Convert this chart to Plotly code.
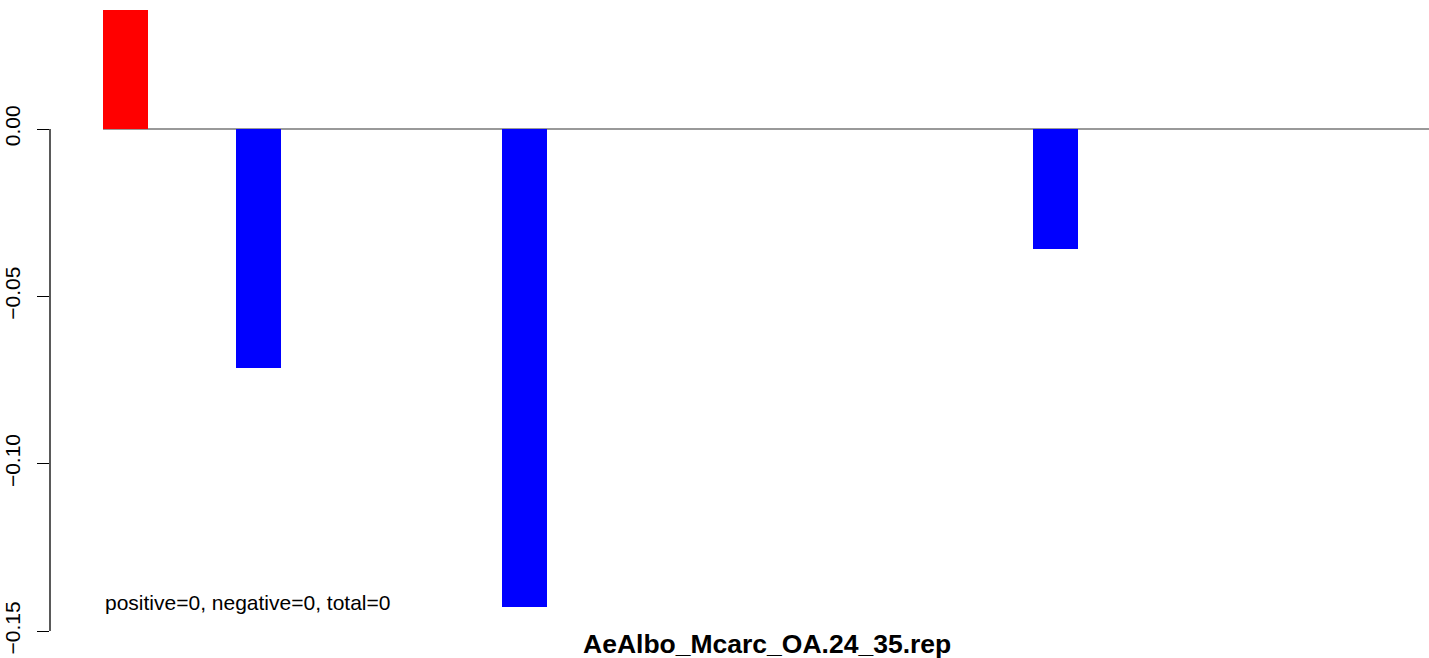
import plotly.graph_objects as go

# data
positions = [1, 2, 3, 4, 5, 6, 7, 8, 9, 10]
values = [0.0356, -0.0714, 0.0, -0.1428, 0.0, 0.0, 0.0, -0.0358, 0.0, 0.0]
bar_colors = ["#FF0000" if v > 0 else "#0000FF" for v in values]
y_tickvals = [0.0, -0.05, -0.10, -0.15]
y_ticktext = ["0.00", "\u22120.05", "\u22120.10", "\u22120.15"]
title_text = "AeAlbo_Mcarc_OA.24_35.rep"
note_text = "positive=0, negative=0, total=0"

bar_width = 0.3386
FONT = "Liberation Sans, Arial, Helvetica, sans-serif"

fig = go.Figure()
fig.add_trace(go.Bar(
    x=positions, y=values, width=bar_width,
    marker=dict(color=bar_colors, line=dict(width=0)),
    showlegend=False, hoverinfo="x+y",
))

x_left = positions[0] - bar_width / 2

fig.update_layout(
    width=1429, height=658,
    margin=dict(l=50, r=0, t=0, b=27),
    paper_bgcolor="white", plot_bgcolor="white",
    font=dict(family=FONT, size=21, color="black"),
    bargap=0,
    xaxis=dict(range=[0.432, 10.808], visible=False, showgrid=False, zeroline=False),
    yaxis=dict(
        range=[-0.15, 0.03855], tickvals=y_tickvals, ticktext=y_ticktext,
        ticks="outside", ticklen=12, tickwidth=1.3, tickcolor="black",
        tickangle=-90, showgrid=False, zeroline=False, showline=False,
        tickfont=dict(family=FONT, size=21, color="black"),
        ticklabelstandoff=9,
    ),
    shapes=[
        dict(type="line", xref="paper", yref="y", x0=0, x1=0,
             y0=y_tickvals[-1], y1=y_tickvals[0],
             line=dict(color="black", width=1.3), layer="above"),
        dict(type="line", xref="x", yref="y", x0=x_left, x1=10.808,
             y0=0, y1=0, line=dict(color="#777777", width=1.3), layer="below"),
    ],
    annotations=[
        dict(text=note_text, xref="x", yref="y", x=x_left, y=-0.1415,
             xanchor="left", yanchor="middle", showarrow=False,
             font=dict(family=FONT, size=21, color="black")),
        dict(text="<b>" + title_text + "</b>", xref="paper", yref="paper",
             x=0.5203, y=-0.0205, xanchor="center", yanchor="middle",
             showarrow=False, borderpad=0,
             font=dict(family=FONT, size=26.5, color="black")),
    ],
)

fig.write_html("out.html", config={"displayModeBar": False},
               post_script="document.body.style.margin='0px';document.body.style.padding='0px';")
